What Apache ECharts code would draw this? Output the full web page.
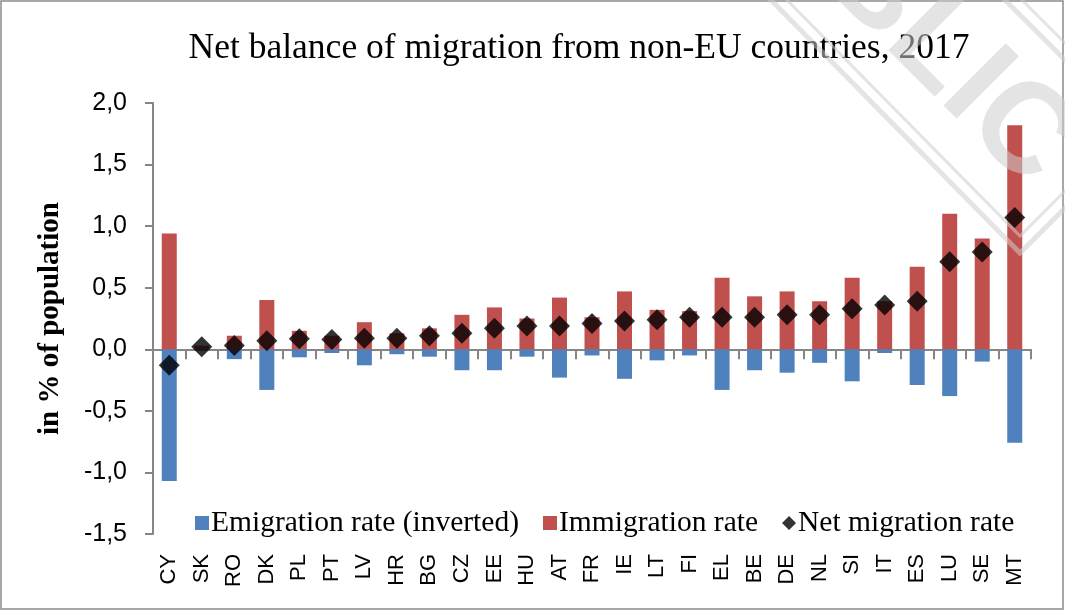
<!DOCTYPE html>
<html><head><meta charset="utf-8">
<script src="https://cdn.jsdelivr.net/npm/echarts@6/dist/echarts.min.js"></script>
<style>html,body{margin:0;padding:0;background:#fff}#c{width:1065px;height:611px}</style>
</head><body><div id="c"></div>
<script>
const categories = ['CY','SK','RO','DK','PL','PT','LV','HR','BG','CZ','EE','HU','AT','FR','IE','LT','FI','EL','BE','DE','NL','SI','IT','ES','LU','SE','MT'];
const emigrationInverted = [-1.07,-0.01,-0.08,-0.33,-0.065,-0.03,-0.13,-0.04,-0.06,-0.17,-0.17,-0.06,-0.23,-0.05,-0.24,-0.09,-0.05,-0.33,-0.17,-0.19,-0.11,-0.26,-0.03,-0.29,-0.38,-0.10,-0.76];
const immigration = [0.94,0.03,0.11,0.40,0.15,0.11,0.22,0.13,0.17,0.28,0.34,0.25,0.42,0.26,0.47,0.32,0.31,0.58,0.43,0.47,0.39,0.58,0.39,0.67,1.10,0.90,1.82];
const netMigration = [-0.13,0.02,0.03,0.07,0.085,0.08,0.09,0.09,0.11,0.13,0.17,0.19,0.19,0.21,0.23,0.24,0.26,0.26,0.26,0.28,0.28,0.33,0.36,0.39,0.71,0.79,1.07];
const yTicks = {min:-1.5, max:2.0, interval:0.5};

const chart = echarts.init(document.getElementById('c'));
const axisGray = '#868686';
const wm = 'rgba(205,205,205,0.55)';
chart.setOption({
  animation:false,
  title:{text:'Net balance of migration from non-EU countries, 2017',left:574,textAlign:'center',top:26,
    textStyle:{fontFamily:'Liberation Serif',fontWeight:'normal',fontSize:35.5,color:'#000'}},
  graphic:[
    {type:'rect',shape:{x:1,y:1,width:1062,height:608},style:{fill:'none',stroke:'#8c8c8c',lineWidth:1.5},z:0},
    {type:'polyline',shape:{points:[[769,-2],[1020,253],[1070,203]]},style:{fill:'none',stroke:wm,lineWidth:5},z:100},
    {type:'polyline',shape:{points:[[785,-2],[1020,236],[1070,186]]},style:{fill:'none',stroke:wm,lineWidth:3},z:100},
    {type:'polyline',shape:{points:[[1003,-2],[1070,65]]},style:{fill:'none',stroke:wm,lineWidth:5},z:100},
    {type:'polyline',shape:{points:[[1020,-2],[1070,48]]},style:{fill:'none',stroke:wm,lineWidth:3},z:100},
    {type:'text',x:1053,y:165,rotation:-Math.PI/4,z:100,
      style:{text:'PUBLIC',fontFamily:'Liberation Sans',fontWeight:'bold',fontSize:128,fill:wm,align:'right',verticalAlign:'middle'}}
  ],
  legend:{left:190,top:503,itemGap:24,itemWidth:14,itemHeight:14,
    textStyle:{fontFamily:'Liberation Serif',fontSize:29.5,color:'#000',padding:[0,0,0,-3]},
    data:[{name:'Emigration rate (inverted)',icon:'rect'},{name:'Immigration rate',icon:'rect'},{name:'Net migration rate',icon:'diamond'}]},
  grid:{left:153,right:34,top:103,bottom:77,containLabel:false},
  xAxis:[
    {type:'category',data:categories,position:'bottom',
     axisLine:{onZero:true,lineStyle:{color:axisGray,width:2}},
     axisTick:{show:true,length:10,lineStyle:{color:axisGray,width:2}},
     axisLabel:{show:false}},
    {type:'category',data:categories,position:'bottom',
     axisLine:{show:false,onZero:false},axisTick:{show:false},
     axisLabel:{rotate:90,margin:20,fontFamily:'Liberation Sans',fontSize:22,color:'#000'}}
  ],
  yAxis:{type:'value',min:yTicks.min,max:yTicks.max,interval:yTicks.interval,
    name:'in % of population',nameLocation:'middle',nameGap:88,
    nameTextStyle:{fontFamily:'Liberation Serif',fontWeight:'bold',fontSize:29,color:'#000'},
    axisLine:{show:true,lineStyle:{color:axisGray,width:2}},
    axisTick:{show:true,length:8,lineStyle:{color:axisGray,width:2}},
    splitLine:{show:false},
    axisLabel:{margin:26,fontFamily:'Liberation Sans',fontSize:25,color:'#000',
      formatter:v=>v.toFixed(1).replace('.',',')}},
  series:[
    {name:'Emigration rate (inverted)',type:'bar',xAxisIndex:0,data:emigrationInverted,barWidth:15,barGap:'-100%',
     itemStyle:{color:'#4F81BD'},z:2},
    {name:'Immigration rate',type:'bar',xAxisIndex:0,data:immigration,barWidth:15,barGap:'-100%',
     itemStyle:{color:'#C0504D'},z:2},
    {name:'Net migration rate',type:'scatter',xAxisIndex:0,data:netMigration,symbol:'diamond',symbolSize:[21,21],
     itemStyle:{color:'#000'},z:5}
  ]
});
</script></body></html>
